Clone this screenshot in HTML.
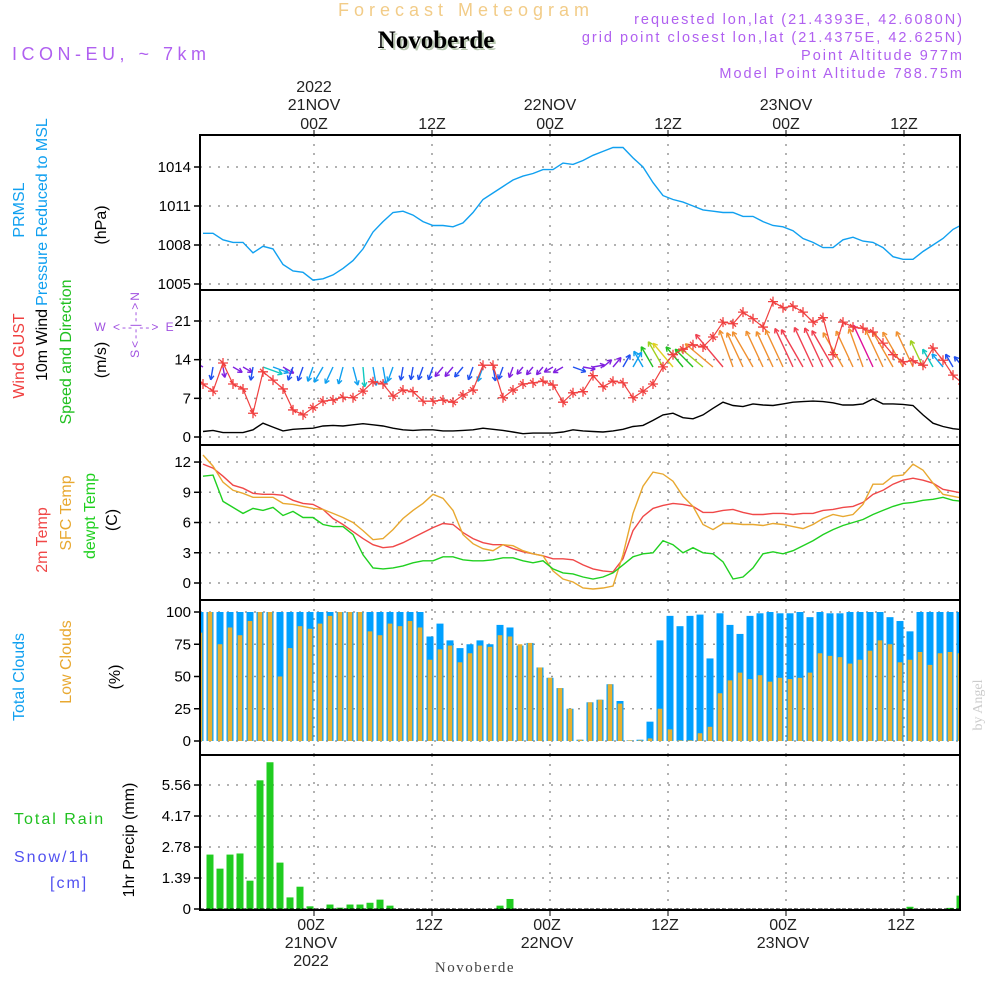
<!DOCTYPE html>
<html><head><meta charset="utf-8"><style>
html,body{margin:0;padding:0;background:#fff;width:1000px;height:1000px;overflow:hidden}
svg text{font-family:"Liberation Sans",sans-serif}
</style></head><body>
<svg id="chart" width="1000" height="1000" viewBox="0 0 1000 1000" xmlns="http://www.w3.org/2000/svg">
<g id="static">
<text x="466" y="16" text-anchor="middle" font-size="18" fill="#f2cc88" letter-spacing="5">Forecast Meteogram</text>
<text x="438" y="50" text-anchor="middle" font-size="25" font-weight="bold" fill="#b8c8b0" style="font-family:'Liberation Serif',serif">Novoberde</text>
<text x="436" y="48" text-anchor="middle" font-size="25" font-weight="bold" fill="#000" style="font-family:'Liberation Serif',serif">Novoberde</text>
<text x="12" y="60" font-size="18" fill="#b060f0" letter-spacing="4.5">ICON-EU, ~ 7km</text>
<g font-size="14.5" fill="#b060f0" text-anchor="end" letter-spacing="2">
<text x="964" y="24">requested lon,lat (21.4393E, 42.6080N)</text>
<text x="964" y="42">grid point closest lon,lat (21.4375E, 42.625N)</text>
<text x="964" y="60">Point Altitude 977m</text>
<text x="964" y="78">Model Point Altitude 788.75m</text>
</g>
<text x="475" y="972" text-anchor="middle" font-size="15" fill="#444" letter-spacing="1.5" style="font-family:'Liberation Serif',serif">Novoberde</text>
<text transform="translate(982,705) rotate(-90)" text-anchor="middle" font-size="14" fill="#ccc" style="font-family:'Liberation Serif',serif">by Angel</text>
<g font-size="16">
<text transform="translate(24,210) rotate(-90)" text-anchor="middle" fill="#10a0f0">PRMSL</text>
<text transform="translate(47,212) rotate(-90)" text-anchor="middle" fill="#10a0f0">Pressure Reduced to MSL</text>
<text transform="translate(106,225) rotate(-90)" text-anchor="middle" fill="#000">(hPa)</text>
<text transform="translate(24,356) rotate(-90)" text-anchor="middle" fill="#f04040">Wind GUST</text>
<text transform="translate(47,345) rotate(-90)" text-anchor="middle" fill="#000">10m Wind</text>
<text transform="translate(71,352) rotate(-90)" text-anchor="middle" fill="#20c020">Speed and Direction</text>
<text transform="translate(106,360) rotate(-90)" text-anchor="middle" fill="#000">(m/s)</text>
<text x="135" y="331" text-anchor="middle" font-size="12" fill="#a050e0" letter-spacing="2">W &lt;--  --&gt; E</text>
<text transform="translate(139,324) rotate(-90)" text-anchor="middle" font-size="12" fill="#a050e0" letter-spacing="2">S&lt;--|--&gt;N</text>
<text transform="translate(47,540) rotate(-90)" text-anchor="middle" fill="#f04848">2m Temp</text>
<text transform="translate(71,513) rotate(-90)" text-anchor="middle" fill="#e8a830">SFC Temp</text>
<text transform="translate(95,516) rotate(-90)" text-anchor="middle" fill="#20d020">dewpt Temp</text>
<text transform="translate(117,520) rotate(-90)" text-anchor="middle" fill="#000">(C)</text>
<text transform="translate(24,677) rotate(-90)" text-anchor="middle" fill="#10a0f0">Total Clouds</text>
<text transform="translate(71,662) rotate(-90)" text-anchor="middle" fill="#e8a830">Low Clouds</text>
<text transform="translate(120,677) rotate(-90)" text-anchor="middle" fill="#000">(%)</text>
<text x="14" y="824" fill="#20c020" letter-spacing="2">Total  Rain</text>
<text x="14" y="862" fill="#5050f0" letter-spacing="2">Snow/1h</text>
<text x="50" y="888" fill="#5050f0" letter-spacing="2">[cm]</text>
<text transform="translate(134,840) rotate(-90)" text-anchor="middle" fill="#000">1hr Precip (mm)</text>
</g>
</g>
<g id="dyn"></g>
</svg>
<script>
const pressure=[1008.9,1008.9,1008.4,1008.2,1008.2,1007.4,1007.9,1007.7,1006.5,1006.0,1005.9,1005.3,1005.4,1005.7,1006.2,1006.8,1007.7,1009.0,1009.8,1010.5,1010.6,1010.3,1009.8,1009.5,1009.5,1009.4,1009.7,1010.5,1011.5,1012.0,1012.5,1013.0,1013.3,1013.5,1013.8,1013.8,1014.3,1014.2,1014.5,1014.9,1015.2,1015.5,1015.5,1014.7,1014.0,1012.8,1011.8,1011.5,1011.3,1011.0,1010.7,1010.6,1010.5,1010.5,1010.2,1010.2,1009.8,1009.5,1009.4,1009.1,1008.5,1008.2,1007.8,1007.8,1008.4,1008.6,1008.3,1008.2,1007.8,1007.1,1006.9,1006.9,1007.5,1008.0,1008.5,1009.2,1009.6];
const gust=[9.6,8.3,13.4,9.6,8.7,4.3,11.8,10.3,8.7,4.9,4.0,5.3,6.5,6.7,7.2,7.1,8.3,10.0,9.6,7.4,8.5,8.2,6.5,6.5,6.7,6.3,7.6,8.5,13.0,13.0,7.1,8.5,9.6,9.8,10.1,9.4,6.3,8.0,8.2,11.1,9.1,10.1,9.8,7.1,8.3,9.6,12.7,14.9,15.9,16.7,16.3,18.1,20.8,20.5,22.6,21.4,19.9,24.5,23.4,23.7,22.6,20.8,21.6,14.9,20.8,19.9,19.7,19.0,17.0,14.9,13.6,13.8,13.0,16.1,13.9,11.2,9.6];
const windSpeed=[1.0,1.2,0.8,0.8,0.8,1.3,2.5,1.8,1.1,1.4,1.5,1.6,2.0,2.1,2.0,2.2,2.4,2.2,2.0,1.6,1.3,1.2,1.3,1.3,1.1,1.1,1.2,1.3,1.6,1.4,1.2,0.9,0.6,0.7,0.7,0.7,0.9,1.3,1.1,1.0,0.9,1.1,1.4,1.9,2.1,3.0,4.0,4.3,3.5,3.3,4.0,5.2,6.3,5.7,5.5,6.0,5.8,5.7,6.0,6.3,6.4,6.5,6.4,6.2,5.8,5.8,6.0,6.9,6.0,6.0,5.9,5.7,4.0,2.5,1.9,1.5,1.3];
const windDir=[300,190,170,120,120,190,110,110,120,200,200,200,210,205,195,165,175,170,170,200,190,190,200,200,220,220,220,200,200,170,200,200,220,220,220,240,240,110,100,80,50,40,30,30,330,330,330,320,320,315,310,310,320,340,335,330,335,335,335,335,330,335,335,330,330,335,340,335,335,330,330,335,335,330,320,330,320];
const t2m=[11.8,11.4,10.6,9.7,9.4,8.9,8.8,8.8,8.7,8.2,7.9,7.8,7.3,6.4,5.8,5.1,4.4,3.8,3.5,3.6,4.0,4.5,5.0,5.5,5.9,5.8,5.0,4.4,4.0,3.8,3.8,3.4,3.1,2.9,2.7,2.4,2.4,2.3,1.8,1.4,1.2,1.1,2.4,5.2,6.6,7.4,7.7,7.9,7.8,7.6,7.0,7.0,7.2,7.3,7.0,6.8,6.8,6.9,6.9,6.8,6.9,6.9,7.2,7.3,7.5,7.6,8.0,8.8,9.2,9.8,10.2,10.4,10.2,9.9,9.3,9.1,8.9];
const tsfc=[12.7,11.6,10.0,9.2,8.9,8.5,8.5,8.5,7.9,7.8,7.6,7.4,7.3,6.9,6.5,6.0,5.2,4.3,4.4,5.3,6.4,7.2,7.9,8.8,8.4,7.2,4.8,3.9,3.4,3.2,3.8,3.7,3.2,2.9,2.7,1.2,0.4,0.1,-0.5,-0.6,-0.5,-0.3,2.8,6.9,9.6,11.0,10.8,10.1,8.6,7.6,5.8,5.3,5.9,5.9,5.8,5.8,5.7,5.9,5.8,5.6,5.4,5.8,6.4,6.8,6.6,6.8,7.8,9.8,9.8,10.6,10.7,11.8,11.2,9.9,8.8,8.6,8.4];
const dewpt=[10.6,10.7,8.1,7.5,6.9,7.4,7.2,7.5,6.7,7.1,6.5,6.5,5.8,5.6,5.6,4.8,2.8,1.5,1.4,1.5,1.7,2.0,2.2,2.2,2.6,2.6,2.3,2.2,2.2,2.3,2.5,2.5,2.2,2.0,2.2,1.4,1.0,0.9,0.6,0.4,0.6,1.0,1.8,2.6,2.9,3.0,4.2,3.8,3.0,3.5,3.0,2.9,2.1,0.4,0.6,1.5,2.9,3.1,2.9,3.2,3.7,4.2,4.8,5.3,5.7,6.0,6.3,6.8,7.2,7.6,7.9,8.0,8.2,8.3,8.5,8.2,8.1];
const totalClouds=[100,100,100,100,100,100,100,100,100,100,100,100,100,100,100,100,100,100,100,100,100,100,100,81,91,78,72,75,78,75,90,88,74,76,57,49,41,25,1,30,32,44,31,0.5,1,15,78,97,89,97,98,64,99,90,83,97,99,100,99,99,100,96,100,99,99,100,100,100,100,96,93,85,100,100,100,100,100];
const lowClouds=[84,100,75,88,82,93,100,100,50,72,89,87,91,97,100,100,100,85,82,91,89,93,88,63,71,74,61,68,74,73,82,81,75,76,57,49,41,25,1,30,32,44,29,0.5,0.5,2,25,9,0.5,0.5,6,11,37,47,53,48,51,46,49,48,49,53,68,66,65,60,63,70,78,75,61,63,69,59,68,69,68];
const precip=[0,2.44,1.81,2.44,2.49,1.27,5.77,6.58,2.08,0.52,1.0,0.12,0,0.2,0.06,0.2,0.2,0.28,0.42,0.15,0,0,0,0,0,0,0,0,0,0,0.15,0.45,0,0,0,0,0,0,0,0,0,0,0,0,0,0,0,0,0,0,0,0,0,0,0,0,0,0,0,0,0,0,0,0,0,0,0,0,0,0,0,0.1,0,0,0,0.05,0.6];
const pressureTicks=[1014,1011,1008,1005];
const windTicks=[21,14,7,0];
const tempTicks=[12,9,6,3,0];
const cloudTicks=[100,75,50,25,0];
const precipTicks=[5.56,4.17,2.78,1.39,0];
const timeLabels=["00Z","12Z","00Z","12Z","00Z","12Z"];
const dayLabels=["21NOV","","22NOV","","23NOV",""];
const gridHours=[11,23,35,47,59,71];

const NS='http://www.w3.org/2000/svg';
const dyn=document.getElementById('dyn');
const L=200,R=960;
const P=[{t:135,b:290},{t:290,b:445},{t:445,b:600},{t:600,b:755},{t:755,b:910}];
const lineX=i=>203+i*10;
const barX=i=>200+i*10;
const gx=h=>314+(h-11)*(590/60);
const yP=v=>284-(v-1005)*13;
const yW=v=>437-v*5.524;
const yT=v=>583-v*10.08;
const yC=v=>741-v*1.29;
const yR=v=>909-v*22.3;
function mk(tag,attrs,parent){const e=document.createElementNS(NS,tag);for(const k in attrs)e.setAttribute(k,attrs[k]);(parent||dyn).appendChild(e);return e;}
const defs=mk('defs',{});
P.forEach((p,k)=>{const c=mk('clipPath',{id:'clip'+k},defs);mk('rect',{x:L,y:p.t,width:R-L,height:p.b-p.t},c);});
const scales=[[pressureTicks,yP],[windTicks,yW],[tempTicks,yT],[cloudTicks,yC],[precipTicks,yR]];
scales.forEach((s,k)=>{
  const g=mk('g',{});
  
  
  gridHours.forEach(h=>{mk('line',{x1:gx(h),x2:gx(h),y1:P[k].t,y2:P[k].b,stroke:'#999','stroke-dasharray':'2,7','stroke-width':1.5},g);});
  s[0].forEach(v=>{const y=s[1](v);
    mk('line',{x1:L,x2:R,y1:y,y2:y,stroke:'#999','stroke-dasharray':'2,7','stroke-width':1.5},g);
    mk('line',{x1:L-6,x2:L,y1:y,y2:y,stroke:'#000','stroke-width':1.5},g);
    const t=mk('text',{x:L-9,y:y+5,'text-anchor':'end','font-size':15,fill:'#000'},g);
    
    
    t.textContent=String(v);});
});
function polyline(arr,fy,color,name,k,w){
  const pts=arr.map((v,i)=>lineX(i).toFixed(1)+','+fy(v).toFixed(1)).join(' ');
  const pl=mk('polyline',{points:pts,fill:'none',stroke:color,'stroke-width':w||1.4,'clip-path':'url(#clip'+k+')'});
  
  
}
polyline(pressure,yP,'#10a0f0','pressure-line',0);
function arrowColor(s){if(s<1.2)return'#8020e0';if(s<1.6)return'#2050f0';if(s<2.4)return'#10a0f0';if(s<3)return'#10c8c0';if(s<3.6)return'#20c020';if(s<4.2)return'#a0d020';if(s<4.8)return'#e0d020';if(s<6.2)return'#f09030';if(s<6.6)return'#f04050';return'#e0109a';}
const ag=mk('g',{'clip-path':'url(#clip1)'});


windDir.forEach((d,i)=>{
  const s=windSpeed[i],len=6+s*5.8,a=d*Math.PI/180;
  const x0=lineX(i),y0=367,x1=x0+Math.sin(a)*len,y1=y0-Math.cos(a)*len;
  const c=arrowColor(s);
  const g=mk('g',{stroke:c,'stroke-width':1.4,fill:'none'},ag);
  
  
  mk('line',{x1:x0,y1:y0,x2:x1,y2:y1},g);
  const hl=5;[a+Math.PI-0.5,a+Math.PI+0.5].forEach(b=>{mk('line',{x1:x1,y1:y1,x2:x1+Math.sin(b)*hl,y2:y1-Math.cos(b)*hl},g);});
});
polyline(windSpeed,yW,'#000','wind-speed-line',1);
polyline(gust,yW,'#f04040','wind-gust-line',1,1.2);
const gm=mk('g',{stroke:'#f04040','stroke-width':1.3,'clip-path':'url(#clip1)'});


gust.forEach((v,i)=>{const x=lineX(i),y=yW(v);
  const p=mk('path',{d:`M${x-5},${y}H${x+5}M${x},${y-5}V${y+5}M${x-3},${y-3}L${x+3},${y+3}`},gm);
  
  });
polyline(t2m,yT,'#f04848','temp-2m-line',2);
polyline(tsfc,yT,'#e8a830','temp-sfc-line',2);
polyline(dewpt,yT,'#20d020','dewpoint-line',2);
const cg=mk('g',{'clip-path':'url(#clip3)'});


totalClouds.forEach((v,i)=>{const y=yC(v);const r=mk('rect',{x:barX(i)-3.5,y:y,width:7,height:741-y,fill:'#00a0ff'},cg);
  
  });
lowClouds.forEach((v,i)=>{const y=yC(v);const r=mk('rect',{x:barX(i)-2.3,y:y,width:4.6,height:741-y,fill:'#e8b030'},cg);
  
  });
const pg=mk('g',{'clip-path':'url(#clip4)'});


precip.forEach((v,i)=>{if(v<=0)return;const y=yR(v);const r=mk('rect',{x:barX(i)-3.5,y:y,width:7,height:909-y,fill:'#20cc20'},pg);
  
  });
mk('line',{x1:L,x2:R,y1:909,y2:909,stroke:'#000','stroke-width':1,'stroke-dasharray':'4,2'});
P.forEach((p,k)=>{const r=mk('rect',{x:L,y:p.t,width:R-L,height:p.b-p.t,fill:'none',stroke:'#000','stroke-width':2});
  
  });
gridHours.forEach((h,i)=>{const x=gx(h);
  mk('line',{x1:x,x2:x,y1:130,y2:135,stroke:'#000'});
  mk('line',{x1:x,x2:x,y1:910,y2:916,stroke:'#000'});
  const t=mk('text',{x:x,y:129,'text-anchor':'middle','font-size':16,fill:'#222'});
  
  
  t.textContent=timeLabels[i];
  const b=mk('text',{x:x-3,y:930,'text-anchor':'middle','font-size':16,fill:'#222'});
  
  
  b.textContent=timeLabels[i];
  if(dayLabels[i]){
    const d=mk('text',{x:x,y:110,'text-anchor':'middle','font-size':16,fill:'#222'});
    
    
    d.textContent=dayLabels[i];
    const d2=mk('text',{x:x-3,y:948,'text-anchor':'middle','font-size':16,fill:'#222'});
    
    
    d2.textContent=dayLabels[i];
  }
  if(i===0){
    const y1=mk('text',{x:x,y:92,'text-anchor':'middle','font-size':16,fill:'#222'});
    
    
    y1.textContent='2022';
    const y2=mk('text',{x:x-3,y:966,'text-anchor':'middle','font-size':16,fill:'#222'});
    
    
    y2.textContent='2022';
  }
});
</script>
</body></html>
